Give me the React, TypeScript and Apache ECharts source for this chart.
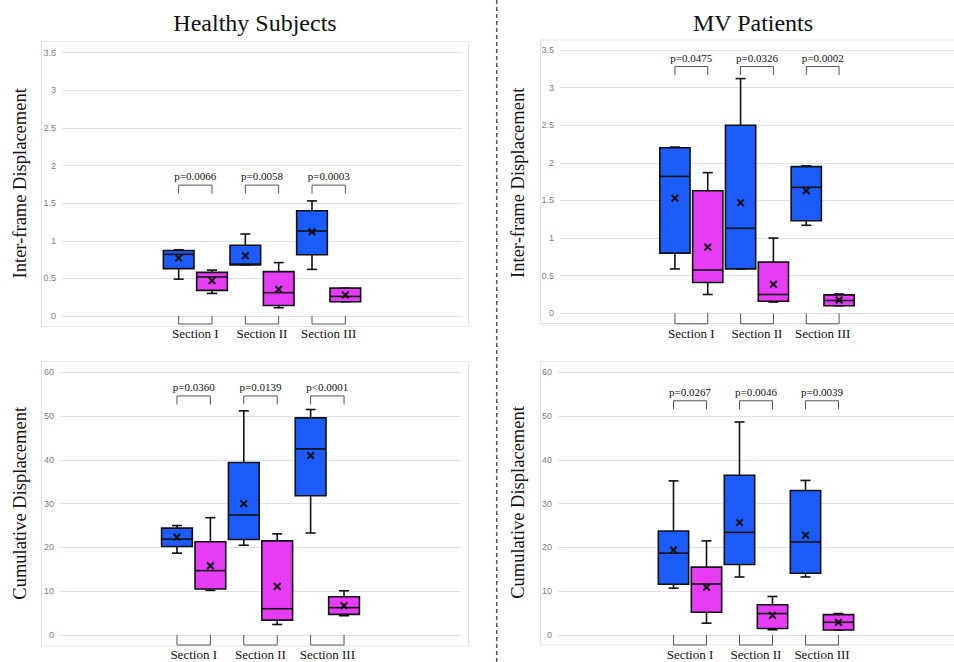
import React, { useEffect, useRef } from "react";
import * as echarts from "echarts";

// ---- Data ----
const SLOTS = ["0", "1", "2", "3", "4", "5", "6", "7", "8", "9", "10", "11"];
const SECTIONS = ["Section I", "Section II", "Section III"];
const BLUE_SLOTS = [3, 5, 7];
const MAGENTA_SLOTS = [4, 6, 8];

// each row: [whiskerLow, q1, median, q3, whiskerHigh, mean]
const healthyInterBlue = [
  [0.49, 0.63, 0.82, 0.87, 0.88, 0.77],
  [0.68, 0.68, 0.69, 0.94, 1.09, 0.8],
  [0.62, 0.815, 1.13, 1.4, 1.53, 1.12],
];
const healthyInterMagenta = [
  [0.3, 0.34, 0.52, 0.58, 0.61, 0.47],
  [0.11, 0.14, 0.31, 0.59, 0.71, 0.355],
  [0.19, 0.19, 0.26, 0.37, 0.37, 0.28],
];
const mvInterBlue = [
  [0.59, 0.8, 1.82, 2.2, 2.21, 1.53],
  [0.59, 0.59, 1.13, 2.5, 3.12, 1.47],
  [1.17, 1.23, 1.675, 1.95, 1.96, 1.63],
];
const mvInterMagenta = [
  [0.25, 0.41, 0.575, 1.63, 1.87, 0.88],
  [0.15, 0.16, 0.25, 0.68, 1.0, 0.385],
  [0.1, 0.1, 0.17, 0.245, 0.257, 0.177],
];
const healthyCumBlue = [
  [18.7, 20.2, 21.9, 24.4, 25.0, 22.3],
  [20.5, 21.8, 27.4, 39.4, 51.2, 30.0],
  [23.3, 31.8, 42.5, 49.6, 51.5, 41.0],
];
const healthyCumMagenta = [
  [10.2, 10.5, 14.7, 21.3, 26.8, 15.8],
  [2.4, 3.4, 6.0, 21.5, 23.1, 11.1],
  [4.4, 4.7, 6.25, 8.75, 10.1, 6.7],
];
const mvCumBlue = [
  [10.7, 11.6, 18.7, 23.75, 35.2, 19.4],
  [13.25, 16.1, 23.45, 36.5, 48.65, 25.7],
  [13.25, 14.1, 21.25, 33.0, 35.3, 22.8],
];
const mvCumMagenta = [
  [2.7, 5.2, 11.65, 15.5, 21.5, 10.9],
  [1.2, 1.5, 4.9, 6.9, 8.8, 4.5],
  [1.1, 1.15, 2.9, 4.65, 4.9, 2.9],
];

const healthyInterP = ["p=0.0066", "p=0.0058", "p=0.0003"];
const mvInterP = ["p=0.0475", "p=0.0326", "p=0.0002"];
const healthyCumP = ["p=0.0360", "p=0.0139", "p<0.0001"];
const mvCumP = ["p=0.0267", "p=0.0046", "p=0.0039"];

// bracket level (data units) for the p-value brackets
const healthyInterPLevel = 1.74;
const mvInterPLevel = 3.28;
const healthyCumPLevel = 54.6;
const mvCumPLevel = 53.5;

const GROUP_TITLES = ["Healthy Subjects", "MV Patients"];
const Y_TITLES = ["Inter-frame Displacement", "Cumulative Displacement"];
const INTER_AXIS = { min: 0, max: 3.5, interval: 0.5 };
const CUM_AXIS = { min: 0, max: 60, interval: 10 };

// ---- Style / layout ----
const BLUE = "#1c5cfb";
const MAGENTA = "#e63cf5";
const SERIF = '"Liberation Serif", "DejaVu Serif", serif';

const PANELS = [
  {
    blue: healthyInterBlue, magenta: healthyInterMagenta, p: healthyInterP, pLevel: healthyInterPLevel,
    axis: INTER_AXIS, grid: { left: 62, top: 52.7, width: 400, height: 263.3 },
    frame: { x: 41.5, y: 41.5, w: 427, h: 285 }, yTitle: { x: 20, y: 183.3, text: Y_TITLES[0] },
    secBracket: 8, secLabel: 17.3,
  },
  {
    blue: mvInterBlue, magenta: mvInterMagenta, p: mvInterP, pLevel: mvInterPLevel,
    axis: INTER_AXIS, grid: { left: 560, top: 50, width: 400, height: 263.3 },
    frame: { x: 540.5, y: 40, w: 430, h: 283.5 }, yTitle: { x: 518.3, y: 182.8, text: Y_TITLES[0] },
    secBracket: 10.5, secLabel: 20,
  },
  {
    blue: healthyCumBlue, magenta: healthyCumMagenta, p: healthyCumP, pLevel: healthyCumPLevel,
    axis: CUM_AXIS, grid: { left: 60, top: 372.3, width: 401, height: 262.7 },
    frame: { x: 41.5, y: 361.5, w: 427, h: 284.5 }, yTitle: { x: 20, y: 503.3, text: Y_TITLES[1] },
    secBracket: 10, secLabel: 19,
  },
  {
    blue: mvCumBlue, magenta: mvCumMagenta, p: mvCumP, pLevel: mvCumPLevel,
    axis: CUM_AXIS, grid: { left: 558, top: 372.3, width: 402, height: 262.7 },
    frame: { x: 540.5, y: 361.5, w: 430, h: 283.5 }, yTitle: { x: 518, y: 502.5, text: Y_TITLES[1] },
    secBracket: 10, secLabel: 19,
  },
];

function boxRenderer(color: string) {
  return (params: any, api: any) => {
    const idx = api.value(0);
    const lo = api.coord([idx, api.value(1)]);
    const q1 = api.coord([idx, api.value(2)]);
    const med = api.coord([idx, api.value(3)]);
    const q3 = api.coord([idx, api.value(4)]);
    const hi = api.coord([idx, api.value(5)]);
    const mean = api.coord([idx, api.value(6)]);
    const bw = api.size([1, 0])[0] * 0.92;
    const x = lo[0];
    const cap = 10;
    const m = 3.3;
    const ls = { stroke: "#111", lineWidth: 1.6 };
    return {
      type: "group",
      children: [
        { type: "line", shape: { x1: x, y1: hi[1], x2: x, y2: q3[1] }, style: ls },
        { type: "line", shape: { x1: x, y1: q1[1], x2: x, y2: lo[1] }, style: ls },
        { type: "line", shape: { x1: x - cap / 2, y1: hi[1], x2: x + cap / 2, y2: hi[1] }, style: ls },
        { type: "line", shape: { x1: x - cap / 2, y1: lo[1], x2: x + cap / 2, y2: lo[1] }, style: ls },
        {
          type: "rect",
          shape: { x: x - bw / 2, y: q3[1], width: bw, height: Math.max(q1[1] - q3[1], 0.5) },
          style: { fill: color, stroke: "#111", lineWidth: 1.6 },
        },
        { type: "line", shape: { x1: x - bw / 2, y1: med[1], x2: x + bw / 2, y2: med[1] }, style: ls },
        { type: "line", shape: { x1: x - m, y1: mean[1] - m, x2: x + m, y2: mean[1] + m }, style: { stroke: "#111", lineWidth: 2 } },
        { type: "line", shape: { x1: x - m, y1: mean[1] + m, x2: x + m, y2: mean[1] - m }, style: { stroke: "#111", lineWidth: 2 } },
      ],
    };
  };
}

function pRenderer(texts: string[]) {
  return (params: any, api: any) => {
    const a = api.coord([api.value(0), api.value(2)]);
    const b = api.coord([api.value(1), api.value(2)]);
    const drop = 8.5;
    return {
      type: "group",
      children: [
        {
          type: "polyline",
          shape: { points: [[a[0], a[1] + drop], [a[0], a[1]], [b[0], a[1]], [b[0], a[1] + drop]] },
          style: { stroke: "#555", lineWidth: 1, fill: "none" },
        },
        {
          type: "text",
          x: (a[0] + b[0]) / 2,
          y: a[1] - 8.7,
          style: {
            text: texts[params.dataIndex], fill: "#111", fontSize: 11, fontFamily: SERIF,
            align: "center", verticalAlign: "middle",
          },
        },
      ],
    };
  };
}

function sectionRenderer(bracket: number, labelOff: number) {
  return (params: any, api: any) => {
    const a = api.coord([api.value(0), 0]);
    const b = api.coord([api.value(1), 0]);
    return {
      type: "group",
      children: [
        {
          type: "polyline",
          shape: { points: [[a[0], a[1]], [a[0], a[1] + bracket], [b[0], a[1] + bracket], [b[0], a[1]]] },
          style: { stroke: "#555", lineWidth: 1, fill: "none" },
        },
        {
          type: "text",
          x: (a[0] + b[0]) / 2,
          y: a[1] + labelOff,
          style: {
            text: SECTIONS[params.dataIndex], fill: "#111", fontSize: 13, fontFamily: SERIF,
            align: "center", verticalAlign: "middle",
          },
        },
      ],
    };
  };
}

export default function App() {
  const ref = useRef<HTMLDivElement>(null);
  useEffect(() => {
    if (!ref.current) return;
    const chart = echarts.init(ref.current, null, { renderer: "svg" });
    const grid: any[] = [];
    const xAxis: any[] = [];
    const yAxis: any[] = [];
    const series: any[] = [];
    const graphic: any[] = [];

    PANELS.forEach((p, i) => {
      grid.push({ ...p.grid, containLabel: false });
      xAxis.push({
        type: "category", gridIndex: i, data: SLOTS, boundaryGap: true,
        axisLine: { show: false }, axisTick: { show: false }, axisLabel: { show: false }, splitLine: { show: false },
      });
      yAxis.push({
        type: "value", gridIndex: i, min: p.axis.min, max: p.axis.max, interval: p.axis.interval,
        axisLine: { show: false }, axisTick: { show: false },
        axisLabel: { color: "#808080", fontSize: 9, fontFamily: '"Liberation Sans", sans-serif', margin: 6 },
        splitLine: { lineStyle: { color: "#e2e2e2", width: 1 } },
      });
      series.push({
        type: "custom", name: "blue" + i, xAxisIndex: i, yAxisIndex: i, clip: false,
        renderItem: boxRenderer(BLUE),
        encode: { x: 0, y: [1, 2, 3, 4, 5, 6] },
        data: p.blue.map((r, k) => [BLUE_SLOTS[k], ...r]),
      });
      series.push({
        type: "custom", name: "magenta" + i, xAxisIndex: i, yAxisIndex: i, clip: false,
        renderItem: boxRenderer(MAGENTA),
        encode: { x: 0, y: [1, 2, 3, 4, 5, 6] },
        data: p.magenta.map((r, k) => [MAGENTA_SLOTS[k], ...r]),
      });
      series.push({
        type: "custom", name: "p" + i, xAxisIndex: i, yAxisIndex: i, clip: false,
        renderItem: pRenderer(p.p),
        encode: { x: [0, 1], y: 2 },
        data: BLUE_SLOTS.map((b, k) => [b, MAGENTA_SLOTS[k], p.pLevel]),
      });
      series.push({
        type: "custom", name: "sec" + i, xAxisIndex: i, yAxisIndex: i, clip: false,
        renderItem: sectionRenderer(p.secBracket, p.secLabel),
        encode: { x: [0, 1], y: 2 },
        data: BLUE_SLOTS.map((b, k) => [b, MAGENTA_SLOTS[k], 0]),
      });
      graphic.push({
        type: "rect", z: -10, silent: true,
        shape: { x: p.frame.x, y: p.frame.y, width: p.frame.w, height: p.frame.h },
        style: { fill: "none", stroke: "#e3e3e3", lineWidth: 1 },
      });
      graphic.push({
        type: "text", x: p.yTitle.x, y: p.yTitle.y, rotation: Math.PI / 2,
        style: {
          text: p.yTitle.text, fill: "#111", fontSize: 18.5, fontFamily: SERIF,
          align: "center", verticalAlign: "middle",
        },
      });
    });

    graphic.push({
      type: "text", x: 255, y: 23,
      style: { text: GROUP_TITLES[0], fill: "#111", fontSize: 24, fontFamily: SERIF, align: "center", verticalAlign: "middle" },
    });
    graphic.push({
      type: "text", x: 753, y: 23,
      style: { text: GROUP_TITLES[1], fill: "#111", fontSize: 24, fontFamily: SERIF, align: "center", verticalAlign: "middle" },
    });
    graphic.push({
      type: "line", shape: { x1: 496.7, y1: 0, x2: 496.7, y2: 662 },
      style: { stroke: "#555", lineWidth: 1.5, lineDash: [4, 3] },
    });

    chart.setOption({
      animation: false,
      backgroundColor: "#ffffff",
      grid, xAxis, yAxis, series, graphic,
    });
    return () => chart.dispose();
  }, []);

  return (
    <div
      ref={ref}
      style={{ position: "fixed", left: 0, top: 0, width: 954, height: 662, background: "#fff" }}
    />
  );
}
